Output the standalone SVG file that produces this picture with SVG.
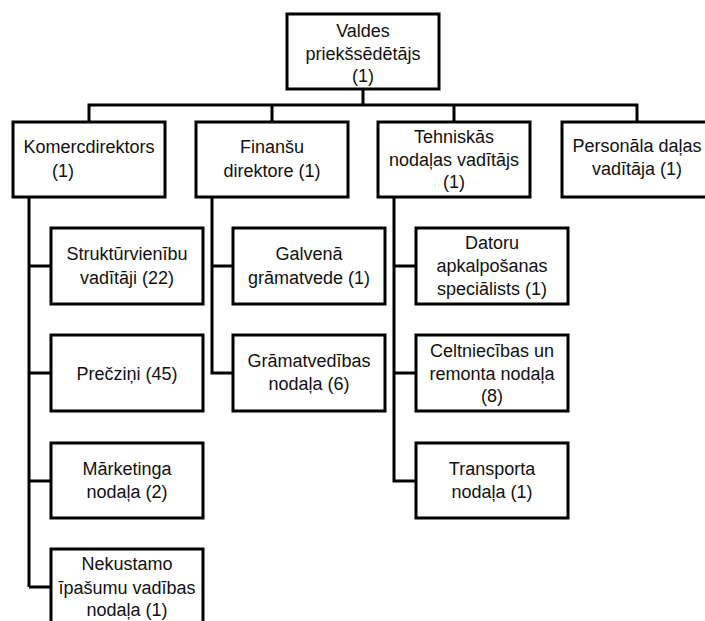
<svg xmlns="http://www.w3.org/2000/svg" width="705" height="621" viewBox="0 0 705 621">
<style>
.box{fill:#fff;stroke:#000;stroke-width:3}
.ln{fill:none;stroke:#000;stroke-width:3}
text{font-family:"Liberation Sans",Arial,sans-serif;font-size:18px;fill:#111;text-anchor:middle}
</style>
<rect width="705" height="621" fill="#fff"/>
<g id="connectors" class="ln">
<path d="M363,89 V105 M89,122 V105 H637 V122 M272,105 V122 M454,105 V122"/>
<path d="M29,197 V587 M29,266 H51 M29,373 H51 M29,481 H51 M29,587 H51"/>
<path d="M212,197 V373 H233 M212,266 H233"/>
<path d="M394,197 V481 H416 M394,266 H416 M394,373 H416"/>
</g>
<g id="n-valdes"><rect class="box" x="287" y="14" width="152" height="75"/><text x="363" y="37">Valdes</text><text x="363" y="60">priekšsēdētājs</text><text x="363" y="82">(1)</text></g>
<g id="n-kom"><rect class="box" x="13" y="122" width="152" height="75"/><text x="89" y="153">Komercdirektors</text><text x="63" y="177">(1)</text></g>
<g id="n-fin"><rect class="box" x="196" y="122" width="152" height="75"/><text x="272" y="153">Finanšu</text><text x="272" y="177">direktore (1)</text></g>
<g id="n-teh"><rect class="box" x="378" y="122" width="152" height="75"/><text x="454" y="143">Tehniskās</text><text x="454" y="166">nodaļas vadītājs</text><text x="454" y="188">(1)</text></g>
<g id="n-pers"><rect class="box" x="562" y="122" width="152" height="75"/><text x="637" y="152">Personāla daļas</text><text x="637" y="175">vadītāja (1)</text></g>
<g id="n-strukt"><rect class="box" x="51" y="228" width="152" height="76"/><text x="127" y="260">Struktūrvienību</text><text x="127" y="284">vadītāji (22)</text></g>
<g id="n-precz"><rect class="box" x="51" y="335" width="152" height="76"/><text x="127" y="380">Prečziņi (45)</text></g>
<g id="n-mark"><rect class="box" x="51" y="443" width="152" height="75"/><text x="127" y="475">Mārketinga</text><text x="127" y="498">nodaļa (2)</text></g>
<g id="n-nek"><rect class="box" x="51" y="549" width="152" height="76"/><text x="127" y="570">Nekustamo</text><text x="127" y="594">īpašumu vadības</text><text x="127" y="616">nodaļa (1)</text></g>
<g id="n-galv"><rect class="box" x="233" y="228" width="152" height="76"/><text x="309" y="260">Galvenā</text><text x="309" y="284">grāmatvede (1)</text></g>
<g id="n-gram"><rect class="box" x="233" y="335" width="152" height="76"/><text x="309" y="367">Grāmatvedības</text><text x="309" y="390">nodaļa (6)</text></g>
<g id="n-dat"><rect class="box" x="416" y="228" width="152" height="76"/><text x="492" y="249">Datoru</text><text x="492" y="272">apkalpošanas</text><text x="492" y="295">speciālists (1)</text></g>
<g id="n-celt"><rect class="box" x="416" y="335" width="152" height="76"/><text x="492" y="357">Celtniecības un</text><text x="492" y="380">remonta nodaļa</text><text x="492" y="402">(8)</text></g>
<g id="n-trans"><rect class="box" x="416" y="443" width="152" height="75"/><text x="492" y="475">Transporta</text><text x="492" y="498">nodaļa (1)</text></g>
</svg>
